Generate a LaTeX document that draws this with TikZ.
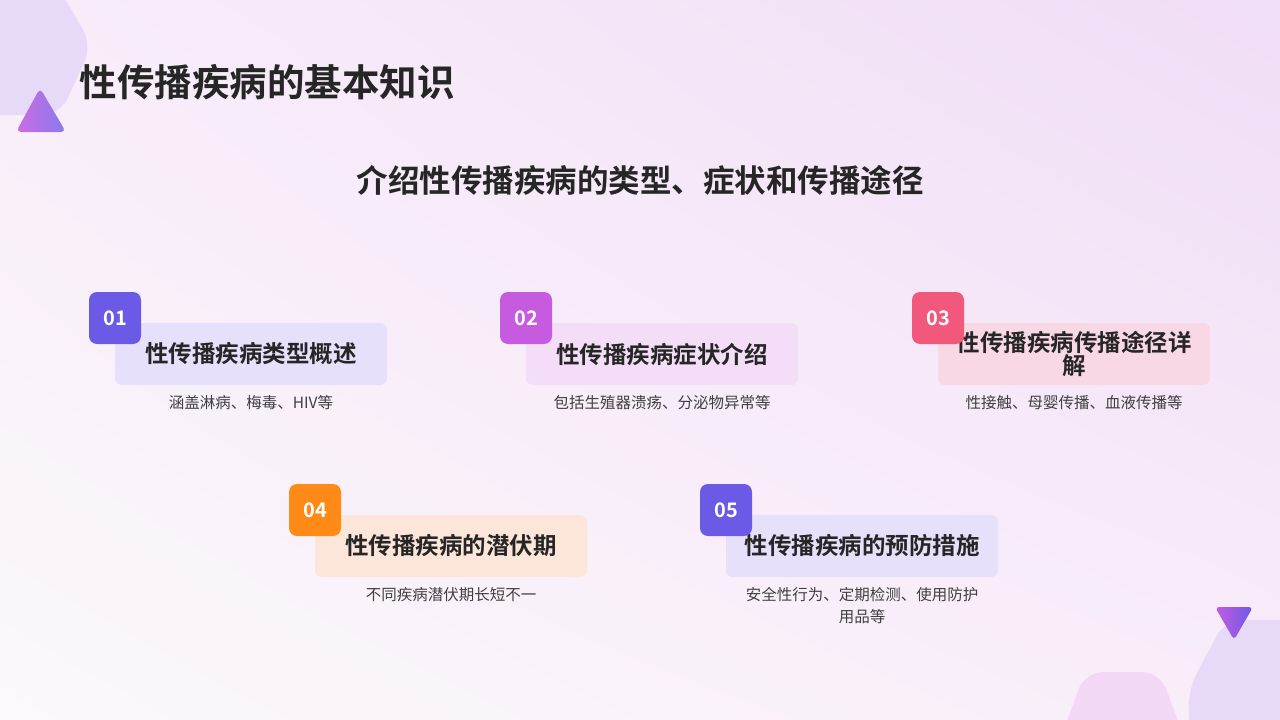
\documentclass[tikz,border=0pt]{standalone}
\usepackage{fontspec}
\setmainfont{Noto Sans CJK SC}
\newfontfamily\cjkbold{Noto Sans CJK SC Bold}
\usetikzlibrary{positioning,shadings}
\definecolor{bgwhite}{HTML}{FCF8FC}
\definecolor{bgpink}{HTML}{F8EDF9}
\definecolor{bglilac}{HTML}{F0DDF6}
\definecolor{txtdark}{HTML}{262626}
\definecolor{txtgray}{HTML}{404040}
\definecolor{violetA}{HTML}{6A5AE6}
\definecolor{magentaA}{HTML}{C65BE0}
\definecolor{roseA}{HTML}{F2587C}
\definecolor{orangeA}{HTML}{FF8A17}
\definecolor{boxviolet}{HTML}{E6E0FA}
\definecolor{boxmagenta}{HTML}{F3DDF7}
\definecolor{boxrose}{HTML}{F9D8E6}
\definecolor{boxorange}{HTML}{FCE6D9}
\definecolor{hexlilac}{HTML}{E6DAF8}
\definecolor{hexpink}{HTML}{F2D8F4}
\tikzset{
	card base/.style={rectangle, rounded corners=7pt, minimum width=272pt, minimum height=62pt, inner sep=0pt, text=txtdark, font=\cjkbold\fontsize{23.5}{24}\selectfont},
	badge base/.style={rectangle, rounded corners=8pt, minimum width=52pt, minimum height=52pt, inner sep=0pt, text=white, font=\cjkbold\fontsize{20}{22}\selectfont},
	desc base/.style={text=txtgray, font=\fontsize{15.5}{22}\selectfont, align=center},
}
\begin{document}
\begin{tikzpicture}[x=1pt,y=-1pt]
	% background
	\shade [upper left=bgpink, upper right=bglilac, lower left=bgwhite, lower right=bgpink] (0,0) rectangle (1280,720);
	\useasboundingbox (0,0) rectangle (1280,720);

	% decorations
	\fill [hexlilac, rounded corners=18pt] (-40,-10) -- (60,-10) -- (92,45) -- (60,115) -- (-40,115) -- cycle;
	\shade [left color=magentaA!90, right color=violetA!80, rounded corners=5pt] (16,132) -- (40,88) -- (66,132) -- cycle;
	\fill [hexlilac, rounded corners=18pt] (1225,620) -- (1300,620) -- (1300,740) -- (1190,740) -- (1188,690) -- cycle;
	\fill [hexpink, rounded corners=18pt] (1060,740) -- (1085,672) -- (1160,672) -- (1185,740) -- cycle;
	\shade [left color=magentaA, right color=violetA, rounded corners=4pt] (1215,607) -- (1253,607) -- (1234,640) -- cycle;

	% titles
	\node [anchor=west, text=txtdark, font=\cjkbold\fontsize{37.5}{40}\selectfont] (title) at (76,82) {性传播疾病的基本知识};
	\node [text=txtdark, font=\cjkbold\fontsize{31.5}{34}\selectfont] (subtitle) at (640,180) {介绍性传播疾病的类型、症状和传播途径};

	% row 1
	\node [card base, fill=boxviolet] (c1) at (251,354) {性传播疾病类型概述};
	\node [badge base, fill=violetA] (b1) at (115,318) {01};
	\node [desc base, below=7pt of c1] (d1) {涵盖淋病、梅毒、HIV等};

	\node [card base, fill=boxmagenta] (c2) at (662,354) {性传播疾病症状介绍};
	\node [badge base, fill=magentaA] (b2) at (526,318) {02};
	\node [desc base, below=7pt of c2] (d2) {包括生殖器溃疡、分泌物异常等};

	\node [card base, fill=boxrose, align=center, font=\cjkbold\fontsize{23.5}{21}\selectfont] (c3) at (1074,354) {性传播疾病传播途径详\\解};
	\node [badge base, fill=roseA] (b3) at (938,318) {03};
	\node [desc base, below=7pt of c3] (d3) {性接触、母婴传播、血液传播等};

	% row 2
	\node [card base, fill=boxorange] (c4) at (451,546) {性传播疾病的潜伏期};
	\node [badge base, fill=orangeA] (b4) at (315,510) {04};
	\node [desc base, below=7pt of c4] (d4) {不同疾病潜伏期长短不一};

	\node [card base, fill=boxviolet] (c5) at (862,546) {性传播疾病的预防措施};
	\node [badge base, fill=violetA] (b5) at (726,510) {05};
	\node [desc base, below=7pt of c5] (d5) {安全性行为、定期检测、使用防护\\用品等};
\end{tikzpicture}
\end{document}
